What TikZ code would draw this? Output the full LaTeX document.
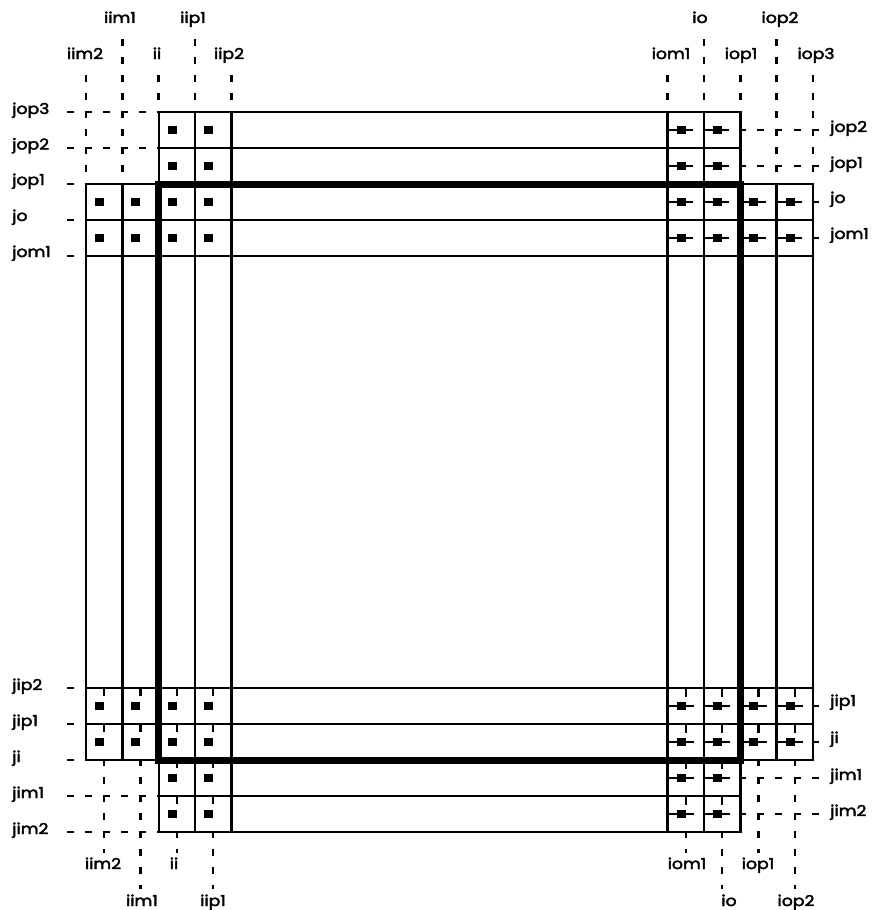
\documentclass[tikz,border=0pt]{standalone}
\usepackage{fontspec}
\setmainfont{Poppins}
\newfontfamily\labfamily{Poppins}[FakeBold=2.4]
\usetikzlibrary{calc}
\newcommand\lblfont{\labfamily\fontsize{15}{15}\selectfont}
\tikzset{
  gridline/.style={line width=2.4pt, line cap=rect},
  bigframe/.style={line width=7pt, line cap=rect},
  dsh/.style={line width=2.5pt, line cap=rect},
  hd/.style={dsh, dash pattern=on 4.5pt off 13.675pt},
  vd/.style={dsh, dash pattern=on 4.5pt off 13.5pt},
  lab/.style={font=\lblfont, inner sep=0pt, xscale=1.15},
  sqA/.pic={\fill (-4.4pt,-4.4pt) rectangle (4.4pt,4.4pt);},
  sqB/.pic={\fill (-4.4pt,-4.4pt) rectangle (4.4pt,4.4pt);
            \draw[line width=2.4pt] (-13.5pt,0pt) -- (12pt,0pt);},
  sqC/.pic={\fill (-4.4pt,-4.4pt) rectangle (4.4pt,4.4pt);
            \draw[line width=2.4pt] (4.7pt,18pt) -- (4.7pt,10pt);},
  sqD/.pic={\fill (-4.4pt,-4.4pt) rectangle (4.4pt,4.4pt);
            \draw[line width=2.4pt] (-13.5pt,0pt) -- (13pt,0pt);
            \draw[line width=2.4pt] (4.7pt,18pt) -- (4.7pt,9pt);},
}
\begin{document}
\begin{tikzpicture}[x=1pt,y=-1pt]
\useasboundingbox (0,0) rectangle (871,910);
\begin{scope}[shift={(86,112)}, x=36.35pt, y=-36pt]
  % grid
  \foreach \k in {0,1,19,20} \draw[gridline] (\k,2) -- (\k,18);
  \foreach \k in {2,3,4,16,17,18} \draw[gridline] (\k,0) -- (\k,20);
  \foreach \m in {0,1,19,20} \draw[gridline] (2,\m) -- (18,\m);
  \foreach \m in {2,3,4,16,17,18} \draw[gridline] (0,\m) -- (20,\m);
  % markers
  \foreach \k/\m in {2/0,3/0,2/1,3/1,0/2,1/2,2/2,3/2,0/3,1/3,2/3,3/3}
    \pic at ($(\k,\m)+(13.5pt,-18pt)$) {sqA};
  \foreach \k/\m in {16/0,17/0,16/1,17/1,16/2,17/2,18/2,19/2,16/3,17/3,18/3,19/3}
    \pic at ($(\k,\m)+(13.5pt,-18pt)$) {sqB};
  \foreach \k/\m in {0/16,1/16,2/16,3/16,0/17,1/17,2/17,3/17,2/18,3/18,2/19,3/19}
    \pic at ($(\k,\m)+(13.5pt,-18pt)$) {sqC};
  \foreach \k/\m in {16/16,17/16,18/16,19/16,16/17,17/17,18/17,19/17,16/18,17/18,16/19,17/19}
    \pic at ($(\k,\m)+(13.5pt,-18pt)$) {sqD};
  % thick frame
  \draw[bigframe] (2,2) rectangle (18,18);
  % top dashed verticals
  \foreach \k/\a/\b in {0/-1/2, 1/-2/2, 2/-1/0, 3/-2/0, 4/-1/0,
                        16/-1/0, 17/-2/0, 18/-1/0, 19/-2/2, 20/-1/2}
    \draw[vd] (\k,\a) -- (\k,\b);
  % top-left dashed horizontals
  \foreach \m in {0,1} \draw[hd] (-0.5,\m) -- (2,\m);
  % top-right dashed horizontals
  \foreach \m in {0.5,1.5} \draw[hd] (18,\m) -- (20.13,\m);
  % bottom-left dashed horizontals
  \foreach \m in {19,20} \draw[hd] (-0.5,\m) -- (2,\m);
  % bottom-right dashed horizontals
  \foreach \m in {18.5,19.5} \draw[hd] (18,\m) -- (20.13,\m);
  % bottom dashed verticals
  \foreach \k/\a/\b in {0.5/18/20.55, 1.5/18/21.55, 2.5/20/20.55, 3.5/20/21.55,
                        16.5/20/20.55, 17.5/20/21.55, 18.5/18/20.55, 19.5/18/21.55}
    \draw[vd] (\k,\a) -- (\k,\b);
  % left ticks
  \foreach \m in {2,3,4,16,17,18} \draw[dsh] (-0.5,\m) -- (-0.375,\m);
  % right ticks
  \foreach \m in {2.5,3.5,16.5,17.5} \draw[dsh] (20,\m) -- (20.13,\m);
\end{scope}
% top labels
\node[lab, anchor=base] (tiim1) at (120,23) {iim1};
\node[lab, anchor=base] (tiip1) at (193,23) {iip1};
\node[lab, anchor=base] (tio)   at (700,23) {io};
\node[lab, anchor=base] (tiop2) at (780,23) {iop2};
\node[lab, anchor=base] (tiim2) at (85,59) {iim2};
\node[lab, anchor=base] (tii)   at (157,59) {ii};
\node[lab, anchor=base] (tiip2) at (229,59) {iip2};
\node[lab, anchor=base] (tiom1) at (671,59) {iom1};
\node[lab, anchor=base] (tiop1) at (741,59) {iop1};
\node[lab, anchor=base] (tiop3) at (816,59) {iop3};
% bottom labels
\node[lab, anchor=base] (biim2) at (103,869) {iim2};
\node[lab, anchor=base] (bii)   at (174,869) {ii};
\node[lab, anchor=base] (biom1) at (687,869) {iom1};
\node[lab, anchor=base] (biop1) at (758,869) {iop1};
\node[lab, anchor=base] (biim1) at (142,906) {iim1};
\node[lab, anchor=base] (biip1) at (213,906) {iip1};
\node[lab, anchor=base] (bio)   at (729,906) {io};
\node[lab, anchor=base] (biop2) at (796,906) {iop2};
% left labels
\node[lab, anchor=base west] (ljop3) at (12,114) {jop3};
\node[lab, anchor=base west] (ljop2) at (12,149.5) {jop2};
\node[lab, anchor=base west] (ljop1) at (12,185) {jop1};
\node[lab, anchor=base west] (ljo)   at (12,221) {jo};
\node[lab, anchor=base west] (ljom1) at (12,257) {jom1};
\node[lab, anchor=base west] (ljip2) at (12,690) {jip2};
\node[lab, anchor=base west] (ljip1) at (12,726) {jip1};
\node[lab, anchor=base west] (lji)   at (12,762) {ji};
\node[lab, anchor=base west] (ljim1) at (12,798) {jim1};
\node[lab, anchor=base west] (ljim2) at (12,834) {jim2};
% right labels
\node[lab, anchor=base west] (rjop2) at (830,132) {jop2};
\node[lab, anchor=base west] (rjop1) at (830,168) {jop1};
\node[lab, anchor=base west] (rjo)   at (830,203) {jo};
\node[lab, anchor=base west] (rjom1) at (830,239) {jom1};
\node[lab, anchor=base west] (rjip1) at (830,706) {jip1};
\node[lab, anchor=base west] (rji)   at (830,743) {ji};
\node[lab, anchor=base west] (rjim1) at (830,780) {jim1};
\node[lab, anchor=base west] (rjim2) at (830,816) {jim2};
\end{tikzpicture}
\end{document}
